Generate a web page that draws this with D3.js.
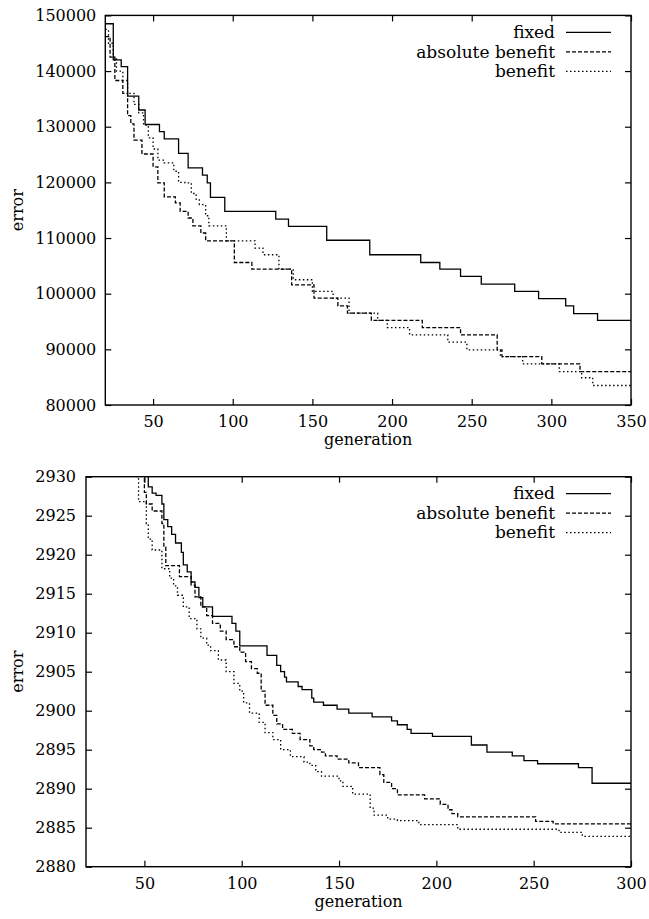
<!DOCTYPE html>
<html lang="en">
<head>
	<meta charset="UTF-8">
	<title>error vs generation</title>
	<style>
		body{margin:0;background:#fff;}
		.lbl{font-family:'DejaVu Serif',serif;font-size:16px;fill:#000;}
		.leg text{font-size:17px;}
		.tick text{font-family:'DejaVu Serif',serif;font-size:16px;fill:#000;}
		.tick line{stroke:#000;stroke-width:1.2px;}
		.frame{fill:none;stroke:#000;stroke-width:1.4px;}
		.series{fill:none;stroke:#000;stroke-width:1.3px;}
	</style>
</head>
<body>
<script src="https://d3js.org/d3.v7.min.js"></script>
<script>
	// legend names and line styles
	var names = ['fixed', 'absolute benefit', 'benefit'];
	var dashes = [null, '4,2', '1.5,2.5'];

	// upper chart: [generation, error], value holds until the next point
	var topXTicks = [50, 100, 150, 200, 250, 300, 350];
	var topYTicks = [80000, 90000, 100000, 110000, 120000, 130000, 140000, 150000];
	var topFixed = [[20,148500],[25,142000],[30,140800],[34,135500],[41,133000],[45,130400],[54,129100],[57,127800],[66,125200],[72,122600],[81,121300],[84,119900],[86,117300],[95,114800],[127,113400],[135,112100],[159,109600],[186,107000],[218,105600],[230,104400],[243,103100],[256,101700],[277,100400],[292,99100],[309,97800],[314,96400],[329,95200],[350,95200]];
	var topAbs = [[20,146200],[23,142500],[26,138300],[31,136000],[34,132000],[36,130500],[38,127600],[43,125100],[50,122800],[53,119900],[57,117400],[64,116300],[67,114800],[72,113600],[75,112200],[80,110900],[83,109500],[101,105600],[112,104400],[137,101600],[151,99200],[166,97800],[172,96500],[187,95200],[219,93900],[243,92600],[266,89900],[269,88700],[294,87400],[318,86000],[350,86000]];
	var topBen = [[20,147500],[22,145000],[25,142500],[27,140000],[31,138300],[34,136000],[38,134000],[41,132500],[44,130300],[47,128000],[50,126000],[53,124000],[57,123500],[63,122000],[66,120000],[70,119900],[74,118000],[77,117000],[79,116000],[83,114000],[85,112200],[96,109500],[114,108200],[119,107000],[129,104400],[138,102500],[150,100400],[163,99200],[173,96500],[191,95200],[197,93900],[211,92600],[235,91300],[247,89900],[268,88700],[282,87400],[305,86000],[319,84900],[326,83500],[350,83500]];

	// lower chart
	var botXTicks = [50, 100, 150, 200, 250, 300];
	var botYTicks = [2880, 2885, 2890, 2895, 2900, 2905, 2910, 2915, 2920, 2925, 2930];
	var botFixed = [[20,2945],[48,2932],[50,2930.2],[52,2928.7],[54,2927.9],[56,2927.6],[59,2926.5],[60,2924.5],[62,2923.6],[64,2922.6],[66,2921.5],[69,2920.3],[70,2918.7],[72,2917.8],[74,2916.5],[76,2915.8],[78,2914.5],[80,2913.3],[85,2912.1],[95,2911.2],[97,2910.2],[99,2908.3],[113,2907.1],[118,2905.8],[120,2905],[122,2904.3],[123,2903.7],[129,2903.1],[131,2902.7],[136,2901.6],[137,2901.1],[142,2900.7],[149,2900.2],[155,2899.7],[167,2899.2],[177,2898.7],[180,2898.2],[185,2897.6],[187,2897.1],[198,2896.7],[218,2895.6],[226,2894.7],[239,2894.2],[245,2893.6],[252,2893.2],[273,2892.7],[280,2890.7],[300,2890.7]];
	var botAbs = [[20,2940],[49,2930.5],[50,2928],[51,2926.5],[54,2925.6],[59,2924],[60,2921],[61,2918.6],[68,2917.2],[74,2916.1],[76,2914.6],[79,2913.3],[82,2912.2],[85,2911.2],[89,2910.2],[92,2909.1],[96,2908.2],[99,2907.5],[102,2906.3],[105,2905.4],[108,2904.8],[110,2902.5],[112,2900.7],[116,2899.4],[118,2898.3],[121,2897.6],[126,2897.1],[130,2896.3],[135,2895.5],[137,2895],[141,2894.7],[143,2894.2],[149,2893.8],[155,2893.3],[160,2892.7],[171,2891.8],[173,2890.8],[177,2890],[180,2889.2],[194,2888.7],[202,2888],[206,2887.3],[208,2886.8],[211,2886.4],[251,2885.8],[260,2885.5],[300,2885.5]];
	var botBen = [[20,2940],[45,2930],[47,2926.8],[51,2924],[52,2922],[54,2920.6],[59,2918.2],[63,2917],[65,2916],[67,2914.8],[70,2913.3],[73,2911.8],[77,2910.5],[79,2909.3],[82,2908.4],[84,2907.7],[88,2906.5],[92,2905],[96,2903.5],[99,2902.5],[101,2901],[104,2899.7],[109,2898.5],[112,2897.2],[116,2896.3],[120,2895],[125,2894.1],[132,2893.4],[135,2893],[138,2892.2],[141,2891.6],[150,2891],[152,2890.3],[157,2889.3],[166,2887.5],[168,2886.6],[175,2886.1],[180,2885.9],[191,2885.4],[211,2884.8],[263,2884.4],[275,2883.9],[300,2883.9]];

	var svg = d3.select('body').append('svg')
		.attr('width', 649)
		.attr('height', 919)
		.style('display', 'block');

	var fmt = d3.format('d');

	function panel(id, box, xDom, yDom, xTicks, yTicks, series){
		var x = d3.scaleLinear().domain(xDom).range([box.l, box.r]);
		var y = d3.scaleLinear().domain(yDom).range([box.b, box.t]);
		var g = svg.append('g');

		g.append('clipPath').attr('id', id)
			.append('rect')
			.attr('x', box.l).attr('y', box.t)
			.attr('width', box.r - box.l).attr('height', box.b - box.t);

		// inward ticks on all four sides (gnuplot style)
		g.append('g').attr('transform', 'translate(0,' + box.b + ')')
			.call(d3.axisBottom(x).tickValues(xTicks).tickFormat(fmt).tickSize(-6).tickPadding(11))
			.call(a => a.select('.domain').remove());
		g.append('g').attr('transform', 'translate(0,' + box.t + ')')
			.call(d3.axisTop(x).tickValues(xTicks).tickSize(-6).tickFormat(''))
			.call(a => a.select('.domain').remove());
		g.append('g').attr('transform', 'translate(' + box.l + ',0)')
			.call(d3.axisLeft(y).tickValues(yTicks).tickFormat(fmt).tickSize(-6).tickPadding(box.pad))
			.call(a => a.select('.domain').remove());
		g.append('g').attr('transform', 'translate(' + box.r + ',0)')
			.call(d3.axisRight(y).tickValues(yTicks).tickSize(-6).tickFormat(''))
			.call(a => a.select('.domain').remove());

		g.selectAll('.tick text').attr('font-family', null).attr('font-size', null);

		var line = d3.line()
			.x(d => x(d[0]))
			.y(d => y(d[1]))
			.curve(d3.curveStepAfter);

		g.append('g').attr('clip-path', 'url(#' + id + ')')
			.selectAll('path')
			.data(series)
			.enter()
			.append('path')
			.attr('class', 'series')
			.attr('stroke-dasharray', (d, i) => dashes[i])
			.attr('d', d => line(d));

		g.append('rect').attr('class', 'frame')
			.attr('x', box.l).attr('y', box.t)
			.attr('width', box.r - box.l).attr('height', box.b - box.t);

		// legend
		var leg = g.selectAll('.leg')
			.data(names)
			.enter()
			.append('g')
			.attr('class', 'leg')
			.attr('transform', (d, i) => 'translate(0,' + (box.t + 17 + i * 19.5) + ')');
		leg.append('text')
			.attr('class', 'lbl')
			.attr('x', 555)
			.attr('dy', '0.33em')
			.attr('text-anchor', 'end')
			.text(d => d);
		leg.append('line')
			.attr('class', 'series')
			.attr('x1', 566).attr('x2', 611)
			.attr('stroke-dasharray', (d, i) => dashes[i]);

		g.append('text').attr('class', 'lbl')
			.attr('x', (box.l + box.r) / 2)
			.attr('y', box.b + 40)
			.attr('text-anchor', 'middle')
			.text('generation');
		g.append('text').attr('class', 'lbl')
			.attr('transform', 'translate(23,' + (box.t + box.b) / 2 + ') rotate(-90)')
			.attr('text-anchor', 'middle')
			.text('error');
	}

	panel('clipTop', {l:105.3, r:631, t:15.4, b:405, pad:9}, [20, 350], [80000, 150000],
		topXTicks, topYTicks, [topFixed, topAbs, topBen]);
	panel('clipBot', {l:86, r:631, t:476.7, b:866.7, pad:10}, [20, 300], [2880, 2930],
		botXTicks, botYTicks, [botFixed, botAbs, botBen]);
</script>
</body>
</html>
